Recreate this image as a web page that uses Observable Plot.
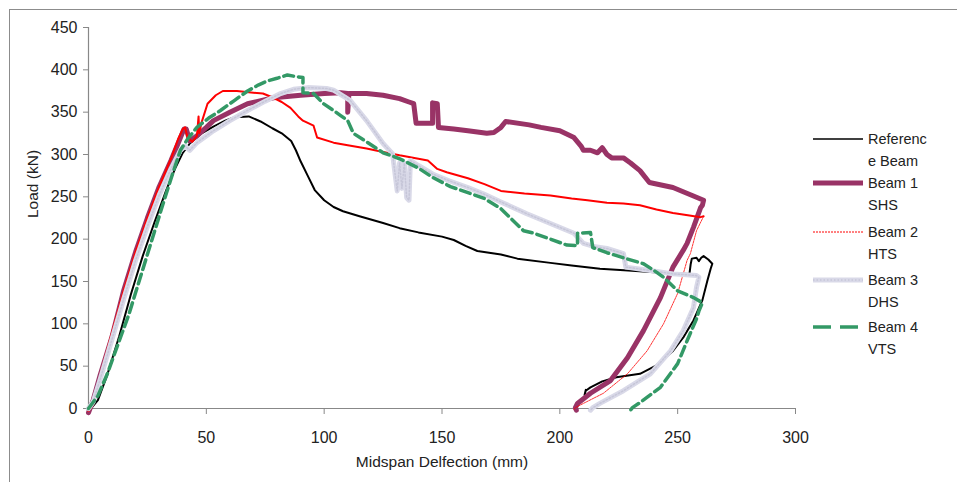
<!DOCTYPE html>
<html>
<head>
<meta charset="utf-8">
<script src="https://cdn.jsdelivr.net/npm/d3@7"></script>
<script src="https://cdn.jsdelivr.net/npm/@observablehq/plot@0.6"></script>
<style>
  html, body { margin: 0; padding: 0; background: #fff; overflow: hidden; }
  #wrap { position: relative; width: 957px; height: 482px; overflow: hidden; }
  #frame { position: absolute; left: 9px; top: 9px; width: 1200px; height: 1200px;
           border-left: 1px solid #8c8c8c; border-top: 1.5px solid #8c8c8c; box-sizing: border-box; }
  #chart, #legend { position: absolute; left: 0; top: 0; }
</style>
</head>
<body>
<div id="wrap"><div id="frame"></div><div id="chart"></div><svg id="legend" width="957" height="482"></svg></div>
<script>
// ---- data (deflection mm, load kN) ----
const xTicks = [0, 50, 100, 150, 200, 250, 300];
const yTicks = [0, 50, 100, 150, 200, 250, 300, 350, 400, 450];
const seriesNames = ["Referenc\ne Beam", "Beam 1\nSHS", "Beam 2\nHTS", "Beam 3\nDHS", "Beam 4\nVTS"];

const refX = [1,4,8,13,18,23,28,33,37,40,43,48,53,58,62,68,73,78,82,86,88,90,93,96,100,104,108,115,125,132,140,150,155,160,165,175,182,196,205,217,229,245,255,255.5,256,258,259,260,261,263,264.7,264,262.6,260.5,256.7,252.4,248,241,234,224,218,213,211,210.5,211];
const refY = [0,10,40,85,135,180,220,258,285,302,313,325,333,340,344,345,339,331,325,316,305,292,275,258,246,238,233,227,219,213,208,203,199,192,186,182,177,172,169,165,163,160,159,170,177,178,174,178,180,176,171,165,151,128,104,84,68,51,41,37,32,25,21,16,22];

const b1X = [0,2,5,10,15,20,25,30,35,38,40.5,41.5,43,46,50,53,60,67.5,78.5,90,100,107,110,110,110.5,118,125,132,136,138,139,146,146,148,148.5,155,161,169,172,175,177,187,192,200,206,209,210,213,216,218,220,222,227,230,234,238,248,256.7,261,260.5,259.7,256.7,254,252.4,248,242.7,235.5,228.7,221.5,213,207.5,206.6,207];
const b1Y = [-5,10,40,85,140,185,225,262,293,313,330,330,316,322,332,340,350,360,367,370,372,373,372,350,372,372,370,366,362,360,337,337,361,360,332,330,328,325,326,332,339,335,332,328,320,310,305,305,302,308,300,296,296,290,281,267,261,251,246,240,237,214,195,187,167,131,92,60,33,18,6,1,-2];

const b2X = [0,2,5,10,15,20,25,30,35,38,40,41,42,44,46,46.7,47,48,50.5,54,57,63,70,74,78.5,82,85.7,89,91,95.5,97,104,110,118,125,132,140,144,148,152,161,168,175,185,196,205,211.7,220,227,234,241,248,255,259.7,261];
const b2Y = [-3,5,40,90,140,185,225,262,295,318,330,332,320,315,322,345,325,338,360,370,375,375,373,372,367,362,355,345,340,334,320,314,311,307,303,299,295,293,283,279,272,265,257,254,251.5,248,246,243,242,240,235,231,228,226,227];
const b2uX = [261,258,255.4,254,250,244,237,228.7,218.5,210,206.6,206];
const b2uY = [227,210,183,175,136,100,68,41,18,6,1,-1];

const b3X = [0,2,5,10,15,20,25,30,35,39,41,43,46,50,53,60,67.5,75,81.5,87,93,101,104,111,118,125,129,131,132,133,134,135,136,136.6,140,146,153,161,168,175,186,196,206,210,215,220,227,228,238.4,248,258,259,258,256.7,252.4,247,238.4,227,217,214,213];
const b3Y = [0,8,35,82,130,175,215,252,283,305,310,305,314,322,328,340,352,363,372,377,379,378,376,364,340,313,301,257,290,260,290,249,246,293,287,277,269,261,253,244,230,218.5,207,195,191,189,183,167,163,159,157,155,143,119,92,68,41,21,6,1,-2];

const b4X = [0,4,8,12,17,22,27,32,36,39,42,46,51,56,62,67.5,72,76,80,84.4,88,91,91,95.5,99.7,104,107,110,112.4,118,125,132,140,146,153.6,161,168,175,184.6,189,196,203,207.5,207.5,213,214,220,227,235.5,240,244,250,256.7,260.5,259,258,254,250,242.7,234,230.8,230];
const b4Y = [0,15,41,72,110,155,200,245,280,305,318,332,343,352,364,375,382,387,390,394,392,391,373,372,360,352,346,340,325,315,302,295,284,273,262,255,248,236,210,207,200,193,192.5,207,208,190,184,178,171,163,155,139,131,125,115,106,80,53,25,7,1,-2];

const colors = { ref: "#000000", b1: "#993366", b2: "#ff0000", b3: "#d9d9e8", b3dot: "#c6c6d8", b4: "#339966" };

const toRows = (xs, ys) => xs.map((x, i) => ({ x, y: ys[i] }));
const ref = toRows(refX, refY), b1 = toRows(b1X, b1Y), b2 = toRows(b2X, b2Y),
      b2u = toRows(b2uX, b2uY), b3 = toRows(b3X, b3Y), b4 = toRows(b4X, b4Y);

const FONT = "'Liberation Sans', Arial, sans-serif";

const chart = Plot.plot({
  width: 957, height: 482,
  marginLeft: 88, marginRight: 162, marginTop: 27, marginBottom: 74,
  style: { fontFamily: FONT, background: "transparent", color: "#222" },
  x: { domain: [0, 300] },
  y: { domain: [0, 450] },
  marks: [
    Plot.ruleY([0], { stroke: "#888", strokeWidth: 1.2 }),
    Plot.ruleX([0], { stroke: "#888", strokeWidth: 1.2 }),
    Plot.axisX({ ticks: xTicks, tickSize: 6, tickPadding: 17, stroke: "#888", fontSize: 16, label: null, fill: "#222" }),
    Plot.axisY({ ticks: yTicks, tickSize: 5, tickPadding: 6, stroke: "#888", fontSize: 16, label: null, fill: "#222" }),
    Plot.text(["Midspan Delfection (mm)"], { frameAnchor: "bottom", dy: 58, fontSize: 15.5, fill: "#222" }),
    Plot.text(["Load (kN)"], { frameAnchor: "left", dx: -55, rotate: -90, fontSize: 15.5, fill: "#222" }),
    Plot.line(ref, { x: "x", y: "y", stroke: colors.ref, strokeWidth: 2 }),
    Plot.line(b1, { x: "x", y: "y", stroke: colors.b1, strokeWidth: 5 }),
    Plot.line(b2, { x: "x", y: "y", stroke: colors.b2, strokeWidth: 2 }),
    Plot.line(b2u, { x: "x", y: "y", stroke: colors.b2, strokeWidth: 0.8, strokeDasharray: "2,1" }),
    Plot.line(b3, { x: "x", y: "y", stroke: colors.b3, strokeWidth: 5 }),
    Plot.line(b3, { x: "x", y: "y", stroke: colors.b3dot, strokeWidth: 1.5, strokeDasharray: "1.5,2" }),
    Plot.line(b4, { x: "x", y: "y", stroke: colors.b4, strokeWidth: 3.5, strokeDasharray: "10,5" })
  ]
});
document.getElementById("chart").appendChild(chart);

// ---- legend ----
const leg = d3.select("#legend");
const entries = [
  { name: seriesNames[0], y: 139, draw: g => g.append("line").attr("stroke", colors.ref).attr("stroke-width", 1.5) },
  { name: seriesNames[1], y: 183, draw: g => g.append("line").attr("stroke", colors.b1).attr("stroke-width", 5) },
  { name: seriesNames[2], y: 232, draw: g => g.append("line").attr("stroke", colors.b2).attr("stroke-width", 1).attr("stroke-dasharray", "2,1") },
  { name: seriesNames[3], y: 280, draw: g => { g.append("line").attr("stroke", colors.b3).attr("stroke-width", 5);
                                               g.append("line").attr("stroke", colors.b3dot).attr("stroke-width", 1.5).attr("stroke-dasharray", "1.5,2"); } },
  { name: seriesNames[4], y: 327, draw: g => g.append("line").attr("stroke", colors.b4).attr("stroke-width", 3.5).attr("stroke-dasharray", "18,9") }
];
entries.forEach(e => {
  const g = leg.append("g");
  e.draw(g);
  g.selectAll("line").attr("x1", 813).attr("x2", 863).attr("y1", e.y).attr("y2", e.y);
  const lines = e.name.split("\n");
  lines.forEach((t, i) => {
    leg.append("text").attr("x", 868).attr("y", e.y + i * 22).attr("dy", "0.35em")
      .attr("font-family", FONT).attr("font-size", 14.5).attr("fill", "#222").text(t);
  });
});
</script>
</body>
</html>
